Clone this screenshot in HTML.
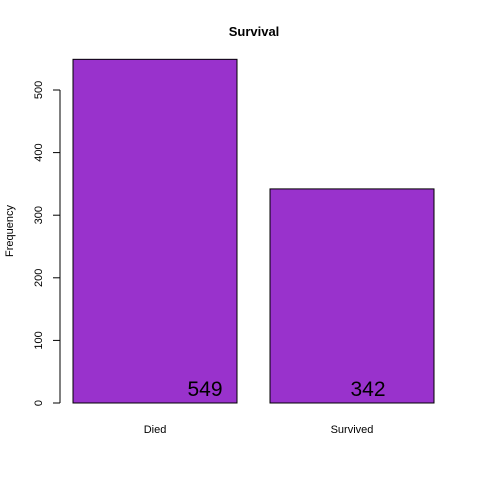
<!DOCTYPE html>
<html><head><meta charset="utf-8"><style>
html,body{margin:0;padding:0;background:#fff;}
svg text{font-family:"Liberation Sans",Arial,sans-serif;}
</style></head><body>
<svg id="chart" width="480" height="480" xmlns="http://www.w3.org/2000/svg">
<rect width="480" height="480" fill="#fff"/>
<text x="254" y="36" text-anchor="middle" font-size="13" font-weight="bold">Survival</text>
<text transform="translate(13,231) rotate(-90)" text-anchor="middle" font-size="11">Frequency</text>
<g id="bars"></g>
<g id="yaxis"></g>
</svg>
<script>
const categories = ["Died", "Survived"];
const counts = [549, 342];
const valueLabels = ["549", "342"];
const yTicks = [0, 100, 200, 300, 400, 500];

const NS = "http://www.w3.org/2000/svg";
const y0 = 403, pxPerUnit = 313/500;
function yScale(v){ return y0 - v*pxPerUnit; }
const barW = 164, gap = 33, x0 = 73;
function xLeft(i){ return x0 + i*(barW+gap); }
const labelOffsets = [50, 16];

const bars = document.getElementById("bars");
categories.forEach((c,i)=>{
  const r = document.createElementNS(NS,"rect");
  
  
  const top = yScale(counts[i]);
  r.setAttribute("x", xLeft(i)); r.setAttribute("y", top);
  r.setAttribute("width", barW); r.setAttribute("height", y0-top);
  r.setAttribute("fill", "#9932CC"); r.setAttribute("stroke", "#000"); r.setAttribute("stroke-width", "1");
  bars.appendChild(r);
  const cx = xLeft(i) + barW/2;
  const t = document.createElementNS(NS,"text");
  
  
  t.setAttribute("x", cx); t.setAttribute("y", 433);
  t.setAttribute("text-anchor","middle"); t.setAttribute("font-size","11");
  t.textContent = c; bars.appendChild(t);
  const v = document.createElementNS(NS,"text");
  
  
  v.setAttribute("x", cx + labelOffsets[i]); v.setAttribute("y", 396);
  v.setAttribute("text-anchor","middle"); v.setAttribute("font-size","21");
  v.textContent = valueLabels[i]; bars.appendChild(v);
});

const ya = document.getElementById("yaxis");
const line = document.createElementNS(NS,"line");


line.setAttribute("x1",60); line.setAttribute("x2",60);
line.setAttribute("y1",yScale(yTicks[0])); line.setAttribute("y2",yScale(yTicks[yTicks.length-1]));
line.setAttribute("stroke","#000"); ya.appendChild(line);
yTicks.forEach(v=>{
  const y = yScale(v);
  const tk = document.createElementNS(NS,"line");
  
  
  tk.setAttribute("x1",53); tk.setAttribute("x2",60); tk.setAttribute("y1",y); tk.setAttribute("y2",y);
  tk.setAttribute("stroke","#000"); ya.appendChild(tk);
  const t = document.createElementNS(NS,"text");
  
  
  t.setAttribute("transform","translate(42,"+y+") rotate(-90)");
  t.setAttribute("text-anchor","middle"); t.setAttribute("font-size","11");
  t.textContent = v; ya.appendChild(t);
});
</script>
</body></html>
